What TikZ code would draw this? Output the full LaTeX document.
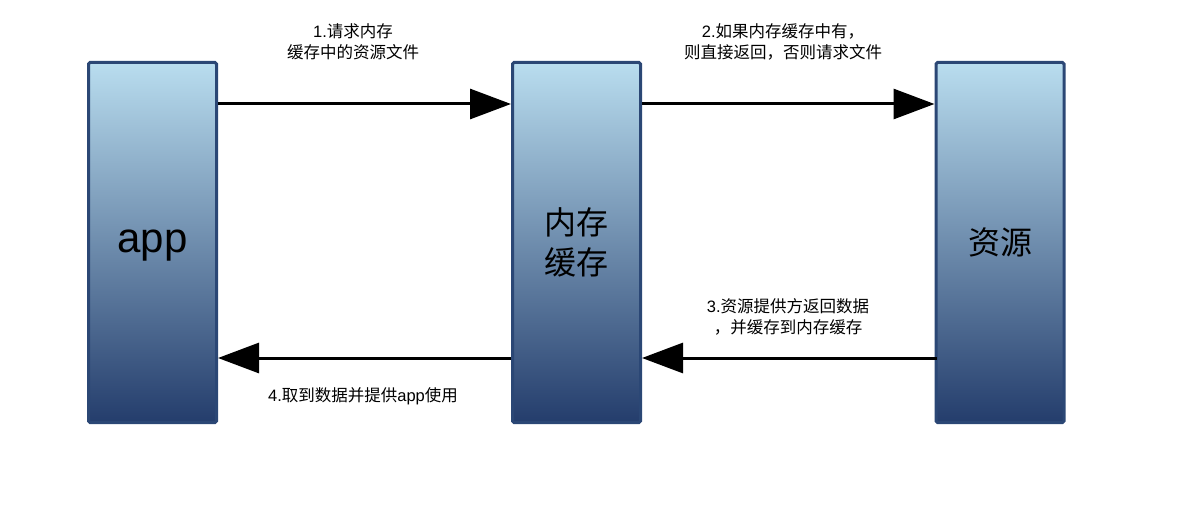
\documentclass[tikz,border=0pt]{standalone}
\usepackage{fontspec}
\setmainfont{Liberation Sans}
\newfontfamily\cjk{Noto Sans CJK SC}
\usetikzlibrary{arrows.meta}
\definecolor{boxtop}{HTML}{B9DDEF}
\definecolor{boxbot}{HTML}{243D6C}
\definecolor{boxline}{HTML}{2B4775}
\tikzset{
  block/.style={draw=boxline, line width=3pt, rounded corners=1.5pt,
    top color=boxtop, bottom color=boxbot,
    minimum width=128pt, minimum height=360pt, inner sep=0pt, align=center},
  flow/.style={line width=3pt, -{Triangle[length=41pt,width=30pt]}},
  lbl/.style={font=\fontsize{16.5}{21.5}\selectfont, align=center, inner sep=0pt}
}
\begin{document}
\begin{tikzpicture}[x=1pt,y=-1pt]
\useasboundingbox (0,0) rectangle (1178,508);
\node[block] (app) at (152.5,242.5) {};
\node[font=\fontsize{42}{46}\selectfont, inner sep=0pt] (apptext) at (152.5,246) {app};
\node[block, font=\cjk\fontsize{32}{40}\selectfont] (mem) at (576.5,242.5) {内存\\缓存};
\node[block, font=\cjk\fontsize{32}{40}\selectfont] (res) at (1000,242.5) {资源};
\draw[flow] ([yshift=138.5pt]app.east) -- ([yshift=138.5pt]mem.west);
\draw[flow] ([yshift=138.5pt]mem.east) -- ([yshift=138.5pt]res.west);
\draw[flow] ([yshift=-115.5pt,xshift=2pt]res.west) -- ([yshift=-115.5pt]mem.east);
\draw[flow] ([yshift=-115.5pt]mem.west) -- ([yshift=-115.5pt]app.east);
\node[lbl] (t1) at (353,42) {1.{\cjk 请求内存}\\{\cjk 缓存中的资源文件}};
\node[lbl] (t2) at (783,42) {2.{\cjk 如果内存缓存中有，}\\{\cjk 则直接返回，否则请求文件}};
\node[lbl] (t3) at (788,317) {3.{\cjk 资源提供方返回数据}\\{\cjk ，并缓存到内存缓存}};
\node[lbl] (t4) at (363,396) {4.{\cjk 取到数据并提供}app{\cjk 使用}};
\end{tikzpicture}
\end{document}
